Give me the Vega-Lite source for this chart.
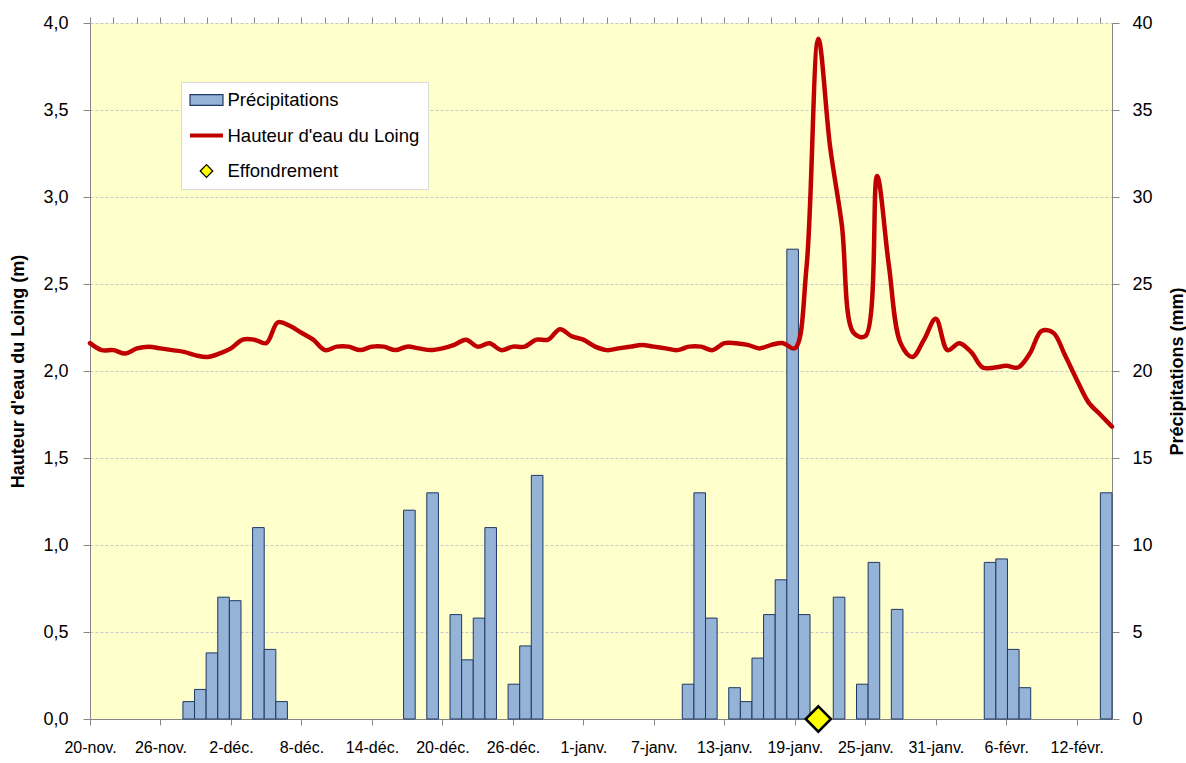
{
  "$schema": "https://vega.github.io/schema/vega-lite/v6.json",
  "width": 1022,
  "height": 696,
  "autosize": {"type": "none"},
  "padding": {"left": 90, "top": 23, "right": 74, "bottom": 44},
  "background": "#ffffff",
  "config": {
    "view": {"fill": "#FFFFCC", "stroke": null},
    "font": "Liberation Sans",
    "axis": {
      "labelFont": "Liberation Sans",
      "labelFontSize": 16,
      "labelColor": "#000000",
      "titleFont": "Liberation Sans",
      "titleFontSize": 18,
      "titleFontWeight": "bold",
      "titleColor": "#000000",
      "domainColor": "#868686",
      "tickColor": "#868686",
      "domainWidth": 1,
      "tickWidth": 1
    }
  },
  "datasets": {
    "jours": [
      {"date": "2017-11-20", "precip": 0, "hauteur": 2.16},
      {"date": "2017-11-21", "precip": 0, "hauteur": 2.12},
      {"date": "2017-11-22", "precip": 0, "hauteur": 2.12},
      {"date": "2017-11-23", "precip": 0, "hauteur": 2.10},
      {"date": "2017-11-24", "precip": 0, "hauteur": 2.13},
      {"date": "2017-11-25", "precip": 0, "hauteur": 2.14},
      {"date": "2017-11-26", "precip": 0, "hauteur": 2.13},
      {"date": "2017-11-27", "precip": 0, "hauteur": 2.12},
      {"date": "2017-11-28", "precip": 1.0, "hauteur": 2.11},
      {"date": "2017-11-29", "precip": 1.7, "hauteur": 2.09},
      {"date": "2017-11-30", "precip": 3.8, "hauteur": 2.08},
      {"date": "2017-12-01", "precip": 7.0, "hauteur": 2.10},
      {"date": "2017-12-02", "precip": 6.8, "hauteur": 2.13},
      {"date": "2017-12-03", "precip": 0, "hauteur": 2.18},
      {"date": "2017-12-04", "precip": 11.0, "hauteur": 2.18},
      {"date": "2017-12-05", "precip": 4.0, "hauteur": 2.16},
      {"date": "2017-12-06", "precip": 1.0, "hauteur": 2.28},
      {"date": "2017-12-07", "precip": 0, "hauteur": 2.26},
      {"date": "2017-12-08", "precip": 0, "hauteur": 2.22},
      {"date": "2017-12-09", "precip": 0, "hauteur": 2.18},
      {"date": "2017-12-10", "precip": 0, "hauteur": 2.12},
      {"date": "2017-12-11", "precip": 0, "hauteur": 2.14},
      {"date": "2017-12-12", "precip": 0, "hauteur": 2.14},
      {"date": "2017-12-13", "precip": 0, "hauteur": 2.12},
      {"date": "2017-12-14", "precip": 0, "hauteur": 2.14},
      {"date": "2017-12-15", "precip": 0, "hauteur": 2.14},
      {"date": "2017-12-16", "precip": 0, "hauteur": 2.12},
      {"date": "2017-12-17", "precip": 12.0, "hauteur": 2.14},
      {"date": "2017-12-18", "precip": 0, "hauteur": 2.13},
      {"date": "2017-12-19", "precip": 13.0, "hauteur": 2.12},
      {"date": "2017-12-20", "precip": 0, "hauteur": 2.13},
      {"date": "2017-12-21", "precip": 6.0, "hauteur": 2.15},
      {"date": "2017-12-22", "precip": 3.4, "hauteur": 2.18},
      {"date": "2017-12-23", "precip": 5.8, "hauteur": 2.14},
      {"date": "2017-12-24", "precip": 11.0, "hauteur": 2.16},
      {"date": "2017-12-25", "precip": 0, "hauteur": 2.12},
      {"date": "2017-12-26", "precip": 2.0, "hauteur": 2.14},
      {"date": "2017-12-27", "precip": 4.2, "hauteur": 2.14},
      {"date": "2017-12-28", "precip": 14.0, "hauteur": 2.18},
      {"date": "2017-12-29", "precip": 0, "hauteur": 2.18},
      {"date": "2017-12-30", "precip": 0, "hauteur": 2.24},
      {"date": "2017-12-31", "precip": 0, "hauteur": 2.20},
      {"date": "2018-01-01", "precip": 0, "hauteur": 2.18},
      {"date": "2018-01-02", "precip": 0, "hauteur": 2.14},
      {"date": "2018-01-03", "precip": 0, "hauteur": 2.12},
      {"date": "2018-01-04", "precip": 0, "hauteur": 2.13},
      {"date": "2018-01-05", "precip": 0, "hauteur": 2.14},
      {"date": "2018-01-06", "precip": 0, "hauteur": 2.15},
      {"date": "2018-01-07", "precip": 0, "hauteur": 2.14},
      {"date": "2018-01-08", "precip": 0, "hauteur": 2.13},
      {"date": "2018-01-09", "precip": 0, "hauteur": 2.12},
      {"date": "2018-01-10", "precip": 2.0, "hauteur": 2.14},
      {"date": "2018-01-11", "precip": 13.0, "hauteur": 2.14},
      {"date": "2018-01-12", "precip": 5.8, "hauteur": 2.12},
      {"date": "2018-01-13", "precip": 0, "hauteur": 2.16},
      {"date": "2018-01-14", "precip": 1.8, "hauteur": 2.16},
      {"date": "2018-01-15", "precip": 1.0, "hauteur": 2.15},
      {"date": "2018-01-16", "precip": 3.5, "hauteur": 2.13},
      {"date": "2018-01-17", "precip": 6.0, "hauteur": 2.15},
      {"date": "2018-01-18", "precip": 8.0, "hauteur": 2.16},
      {"date": "2018-01-19", "precip": 27.0, "hauteur": 2.13},
      {"date": "2018-01-20", "precip": 6.0, "hauteur": 2.60},
      {"date": "2018-01-21", "precip": 0, "hauteur": 3.91},
      {"date": "2018-01-22", "precip": 0, "hauteur": 3.29},
      {"date": "2018-01-23", "precip": 7.0, "hauteur": 2.84},
      {"date": "2018-01-24", "precip": 0, "hauteur": 2.22},
      {"date": "2018-01-25", "precip": 2.0, "hauteur": 2.20},
      {"date": "2018-01-26", "precip": 9.0, "hauteur": 3.12},
      {"date": "2018-01-27", "precip": 0, "hauteur": 2.61},
      {"date": "2018-01-28", "precip": 6.3, "hauteur": 2.16},
      {"date": "2018-01-29", "precip": 0, "hauteur": 2.08},
      {"date": "2018-01-30", "precip": 0, "hauteur": 2.18},
      {"date": "2018-01-31", "precip": 0, "hauteur": 2.30},
      {"date": "2018-02-01", "precip": 0, "hauteur": 2.12},
      {"date": "2018-02-02", "precip": 0, "hauteur": 2.16},
      {"date": "2018-02-03", "precip": 0, "hauteur": 2.11},
      {"date": "2018-02-04", "precip": 0, "hauteur": 2.02},
      {"date": "2018-02-05", "precip": 9.0, "hauteur": 2.02},
      {"date": "2018-02-06", "precip": 9.2, "hauteur": 2.03},
      {"date": "2018-02-07", "precip": 4.0, "hauteur": 2.02},
      {"date": "2018-02-08", "precip": 1.8, "hauteur": 2.10},
      {"date": "2018-02-09", "precip": 0, "hauteur": 2.23},
      {"date": "2018-02-10", "precip": 0, "hauteur": 2.22},
      {"date": "2018-02-11", "precip": 0, "hauteur": 2.09},
      {"date": "2018-02-12", "precip": 0, "hauteur": 1.95},
      {"date": "2018-02-13", "precip": 0, "hauteur": 1.82},
      {"date": "2018-02-14", "precip": 0, "hauteur": 1.75},
      {"date": "2018-02-15", "precip": 13.0, "hauteur": 1.68}
    ],
    "evenements": [
      {"date": "2018-01-21", "hauteur": 0, "evenement": "Effondrement"}
    ]
  },
  "layer": [
    {
      "data": {"name": "jours"},
      "mark": {"type": "bar", "fill": "#95B3D7", "stroke": "#1F3864", "strokeWidth": 1},
      "encoding": {
        "x": {
          "field": "date",
          "type": "ordinal",
          "scale": {"paddingInner": 0, "paddingOuter": 0},
          "axis": null
        },
        "y": {
          "field": "precip",
          "type": "quantitative",
          "scale": {"domain": [0, 40], "nice": false, "zero": true},
          "axis": {
            "orient": "right",
            "values": [0, 5, 10, 15, 20, 25, 30, 35, 40],
            "grid": false,
            "tickSize": 7,
            "labelPadding": 13,
            "labelFontSize": 18,
            "title": "Précipitations (mm)",
            "titleAngle": 270,
            "titleX": 65,
            "titleY": 348,
            "titleAlign": "center",
            "titleBaseline": "middle"
          }
        },
        "strokeOpacity": {
          "condition": {"test": "datum.precip > 0", "value": 1},
          "value": 0
        }
      }
    },
    {
      "layer": [
        {
          "data": {"name": "jours"},
          "mark": {"type": "line", "color": "#C00000", "interpolate": "catmull-rom", "strokeWidth": 4.5, "strokeCap": "round", "strokeJoin": "round"},
          "encoding": {
            "x": {
              "field": "date",
              "type": "temporal",
              "scale": {"domain": [1511136000000, 1518652800000]},
              "axis": {
                "values": [1511136000000, 1511654400000, 1512172800000, 1512691200000, 1513209600000, 1513728000000, 1514246400000, 1514764800000, 1515283200000, 1515801600000, 1516320000000, 1516838400000, 1517356800000, 1517875200000, 1518393600000],
                "labelExpr": "utcdate(datum.value) + '-' + ['janv.','févr.','mars','avr.','mai','juin','juil.','août','sept.','oct.','nov.','déc.'][utcmonth(datum.value)]",
                "labelOverlap": false,
                "labelBound": false,
                "labelFlush": false,
                "tickSize": 6,
                "labelPadding": 14,
                "grid": false,
                "title": null
              }
            },
            "y": {
              "field": "hauteur",
              "type": "quantitative",
              "scale": {"domain": [0, 4], "nice": false},
              "axis": {
                "orient": "left",
                "values": [0, 0.5, 1, 1.5, 2, 2.5, 3, 3.5, 4],
                "labelExpr": "replace(format(datum.value, '.1f'), '.', ',')",
                "labelFontSize": 18,
                "grid": true,
                "gridColor": "#c8c8c8",
                "gridDash": [3, 2],
                "gridWidth": 1,
                "tickSize": 7,
                "labelPadding": 15,
                "title": "Hauteur d'eau du Loing (m)",
                "titleAngle": 270,
                "titleX": -72,
                "titleY": 348,
                "titleAlign": "center",
                "titleBaseline": "middle"
              }
            }
          }
        },
        {
          "data": {"name": "evenements"},
          "mark": {"type": "point", "filled": true, "size": 1300, "opacity": 1},
          "encoding": {
            "x": {
              "field": "date",
              "type": "temporal",
              "scale": {"domain": [1511136000000, 1518652800000]},
              "axis": {
                "values": [1511136000000, 1511308800000, 1511481600000, 1511654400000, 1511827200000, 1512000000000, 1512172800000, 1512345600000, 1512518400000, 1512691200000, 1512864000000, 1513036800000, 1513209600000, 1513382400000, 1513555200000, 1513728000000, 1513900800000, 1514073600000, 1514246400000, 1514419200000, 1514592000000, 1514764800000, 1514937600000, 1515110400000, 1515283200000, 1515456000000, 1515628800000, 1515801600000, 1515974400000, 1516147200000, 1516320000000, 1516492800000, 1516665600000, 1516838400000, 1517011200000, 1517184000000, 1517356800000, 1517529600000, 1517702400000, 1517875200000, 1518048000000, 1518220800000, 1518393600000, 1518566400000],
                "labels": false,
                "domain": false,
                "grid": false,
                "tickSize": 6,
                "title": null
              }
            },
            "y": {"field": "hauteur", "type": "quantitative"},
            "strokeWidth": {"value": 2.5},
            "shape": {
              "datum": "Effondrement",
              "type": "nominal",
              "scale": {
                "domain": ["Précipitations", "Hauteur d'eau du Loing", "Effondrement"],
                "range": ["M-1.83,-0.6H1.83V0.6H-1.83Z", "M-1.83,-0.22H1.83V0.22H-1.83Z", "M0,-0.7L0.7,0L0,0.7L-0.7,0Z"]
              },
              "legend": {
                "title": null,
                "orient": "none",
                "legendX": 91,
                "legendY": 59,
                "direction": "vertical",
                "fillColor": "#ffffff",
                "strokeColor": "#d9d9d9",
                "padding": 8,
                "symbolSize": 324,
                "symbolOffset": 7.5,
                "symbolStrokeWidth": 1.2,
                "symbolOpacity": 1,
                "labelFont": "Liberation Sans",
                "labelFontSize": 18.5,
                "labelColor": "#000000",
                "labelOffset": 11,
                "labelLimit": 400,
                "rowPadding": 15.5
              }
            },
            "fill": {
              "datum": "Effondrement",
              "type": "nominal",
              "scale": {
                "domain": ["Précipitations", "Hauteur d'eau du Loing", "Effondrement"],
                "range": ["#95B3D7", "#C00000", "#FFFF00"]
              },
              "legend": {
                "title": null,
                "orient": "none",
                "legendX": 91,
                "legendY": 59,
                "direction": "vertical",
                "fillColor": "#ffffff",
                "strokeColor": "#d9d9d9",
                "padding": 8,
                "symbolSize": 324,
                "symbolOffset": 7.5,
                "symbolStrokeWidth": 1.2,
                "symbolOpacity": 1,
                "labelFont": "Liberation Sans",
                "labelFontSize": 18.5,
                "labelColor": "#000000",
                "labelOffset": 11,
                "labelLimit": 400,
                "rowPadding": 15.5
              }
            },
            "stroke": {
              "datum": "Effondrement",
              "type": "nominal",
              "scale": {
                "domain": ["Précipitations", "Hauteur d'eau du Loing", "Effondrement"],
                "range": ["#1F3864", "transparent", "#000000"]
              },
              "legend": {
                "title": null,
                "orient": "none",
                "legendX": 91,
                "legendY": 59,
                "direction": "vertical",
                "fillColor": "#ffffff",
                "strokeColor": "#d9d9d9",
                "padding": 8,
                "symbolSize": 324,
                "symbolOffset": 7.5,
                "symbolStrokeWidth": 1.2,
                "symbolOpacity": 1,
                "labelFont": "Liberation Sans",
                "labelFontSize": 18.5,
                "labelColor": "#000000",
                "labelOffset": 11,
                "labelLimit": 400,
                "rowPadding": 15.5
              }
            }
          }
        }
      ],
      "resolve": {"scale": {"x": "independent"}}
    }
  ],
  "resolve": {"scale": {"x": "independent", "y": "independent"}}
}
